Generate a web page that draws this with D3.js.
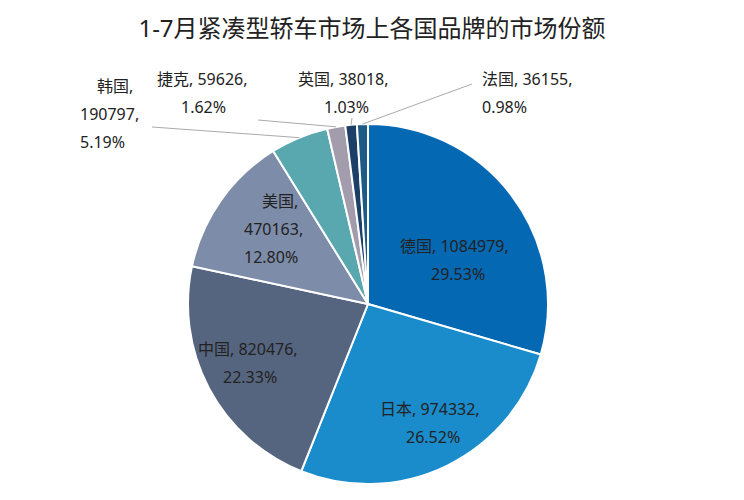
<!DOCTYPE html><html><head><meta charset="utf-8"><script src="https://cdn.jsdelivr.net/npm/d3@7"></script>
<style>body{margin:0;background:#fff}text{font-family:"Noto Sans","Noto Sans CJK SC",sans-serif}</style></head><body>
<svg width="744" height="500"></svg>
<script>
const categories=["德国","日本","中国","美国","韩国","捷克","英国","法国"];
const values=[1084979,974332,820476,470163,190797,59626,38018,36155];
const percents=["29.53%","26.52%","22.33%","12.80%","5.19%","1.62%","1.03%","0.98%"];
const colors=["#0568b3","#1a8bcb","#56657f","#7d8ca8","#5aa8af","#a39cac","#1b3f66","#1d5a86"];
const svg=d3.select("svg");
const cx=368,cy=304,r=180;
svg.append("text").attr("x",372).attr("y",37).attr("text-anchor","middle").attr("font-size",24).attr("fill","#222").text("1-7月紧凑型轿车市场上各国品牌的市场份额");
const pie=d3.pie().sort(null).value(d=>d)(values);
const arc=d3.arc().innerRadius(0).outerRadius(r);
const g=svg.append("g").attr("transform",`translate(${cx},${cy})`);
g.selectAll("path").data(pie).join("path").attr("d",arc).attr("fill",(d,i)=>colors[i]).attr("stroke","#fff").attr("stroke-width",2);
const outer=d3.arc().innerRadius(r).outerRadius(r);
const leaders=[[4,[152,127]],[5,[258,120]],[6,[352,118]],[7,[472,84]]];
leaders.forEach(([i,p])=>{const c=outer.centroid(pie[i]);svg.append("line").attr("x1",p[0]).attr("y1",p[1]).attr("x2",cx+c[0]).attr("y2",cy+c[1]).attr("stroke","#aaa").attr("stroke-width",1);});
const labels=[
 {i:0,y:252,xs:[400,431]},
 {i:1,y:415,xs:[380,406]},
 {i:2,y:355,xs:[198,223]},
 {i:3,y:207,xs:[262,244,244]},
 {i:4,y:92,xs:[97,80,80]},
 {i:5,y:85,xs:[157,181]},
 {i:6,y:85,xs:[298,324]},
 {i:7,y:85,xs:[482,482]}];
labels.forEach(l=>{
 const lines=l.xs.length===3?[categories[l.i]+",",values[l.i]+",",percents[l.i]]:[categories[l.i]+", "+values[l.i]+",",percents[l.i]];
 lines.forEach((t,k)=>svg.append("text").attr("x",l.xs[k]).attr("y",l.y+k*28).attr("font-size",16).attr("fill","#222").text(t));
});
</script></body></html>
